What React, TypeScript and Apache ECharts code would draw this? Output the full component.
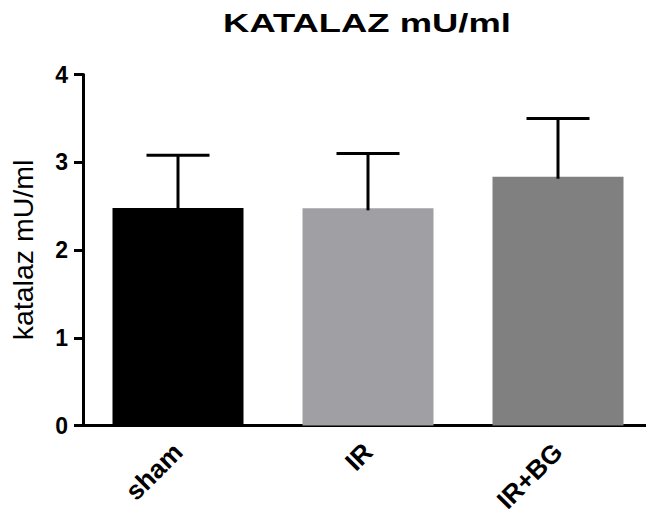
import React, { useEffect, useRef } from "react";
import * as echarts from "echarts";

const categories = ["sham", "IR", "IR+BG"];
const means = [2.48, 2.475, 2.835];
const sds = [0.6, 0.625, 0.665];
const barColors = ["#000000", "#a09fa4", "#808080"];
const yTicks = [0, 1, 2, 3, 4];
const titleText = "KATALAZ mU/ml";
const yName = "katalaz mU/ml";

export default function App() {
  const ref = useRef<HTMLDivElement>(null);
  useEffect(() => {
    if (!ref.current) return;
    const chart = echarts.init(ref.current, null, { renderer: "svg" });
    const font = "Arial, 'Liberation Sans', sans-serif";
    chart.setOption({
      animation: false,
      backgroundColor: "#ffffff",
      graphic: [
        {
          type: "text",
          x: 367,
          y: 23,
          scaleX: 1.4,
          style: {
            text: titleText,
            font: `bold 26px ${font}`,
            fill: "#000",
            align: "center",
            verticalAlign: "middle",
          },
        },
      ],
      grid: { left: 82, top: 74.5, width: 571, height: 351 },
      xAxis: {
        type: "category",
        data: categories,
        axisLine: { lineStyle: { color: "#000", width: 3 } },
        axisTick: { alignWithLabel: true, length: 9, lineStyle: { color: "#000", width: 3 } },
        axisLabel: {
          rotate: 45,
          margin: 22,
          fontFamily: font,
          fontWeight: "bold",
          fontSize: 26,
          color: "#000",
        },
      },
      yAxis: {
        type: "value",
        min: yTicks[0],
        max: yTicks[yTicks.length - 1],
        interval: 1,
        name: yName,
        nameLocation: "middle",
        nameGap: 46,
        nameRotate: 90,
        nameTextStyle: { fontFamily: font, fontSize: 28.5, color: "#000" },
        splitLine: { show: false },
        axisLine: { show: true, lineStyle: { color: "#000", width: 3 } },
        axisTick: { show: true, length: 9, lineStyle: { color: "#000", width: 3 } },
        axisLabel: {
          margin: 15,
          fontFamily: font,
          fontWeight: "bold",
          fontSize: 23,
          color: "#000",
        },
      },
      series: [
        {
          type: "bar",
          barWidth: 131,
          data: means.map((v, i) => ({ value: v, itemStyle: { color: barColors[i] } })),
          z: 2,
        },
        {
          type: "custom",
          z: 3,
          data: means.map((v, i) => [i, v, v + sds[i]]),
          renderItem: (params: any, api: any) => {
            const x = api.value(0);
            const base = api.coord([x, api.value(1)]);
            const top = api.coord([x, api.value(2)]);
            const half = 31.5;
            const style = { stroke: "#000", lineWidth: 3, fill: "none" };
            return {
              type: "group",
              children: [
                { type: "line", shape: { x1: base[0], y1: base[1] + 2, x2: top[0], y2: top[1] }, style },
                { type: "line", shape: { x1: top[0] - half, y1: top[1], x2: top[0] + half, y2: top[1] }, style },
              ],
            };
          },
        },
      ],
    });
    return () => chart.dispose();
  }, []);
  return (
    <div style={{ position: "fixed", left: 0, top: 0, width: 646, height: 519, overflow: "hidden" }}>
      <div ref={ref} style={{ width: 660, height: 519 }} />
    </div>
  );
}
